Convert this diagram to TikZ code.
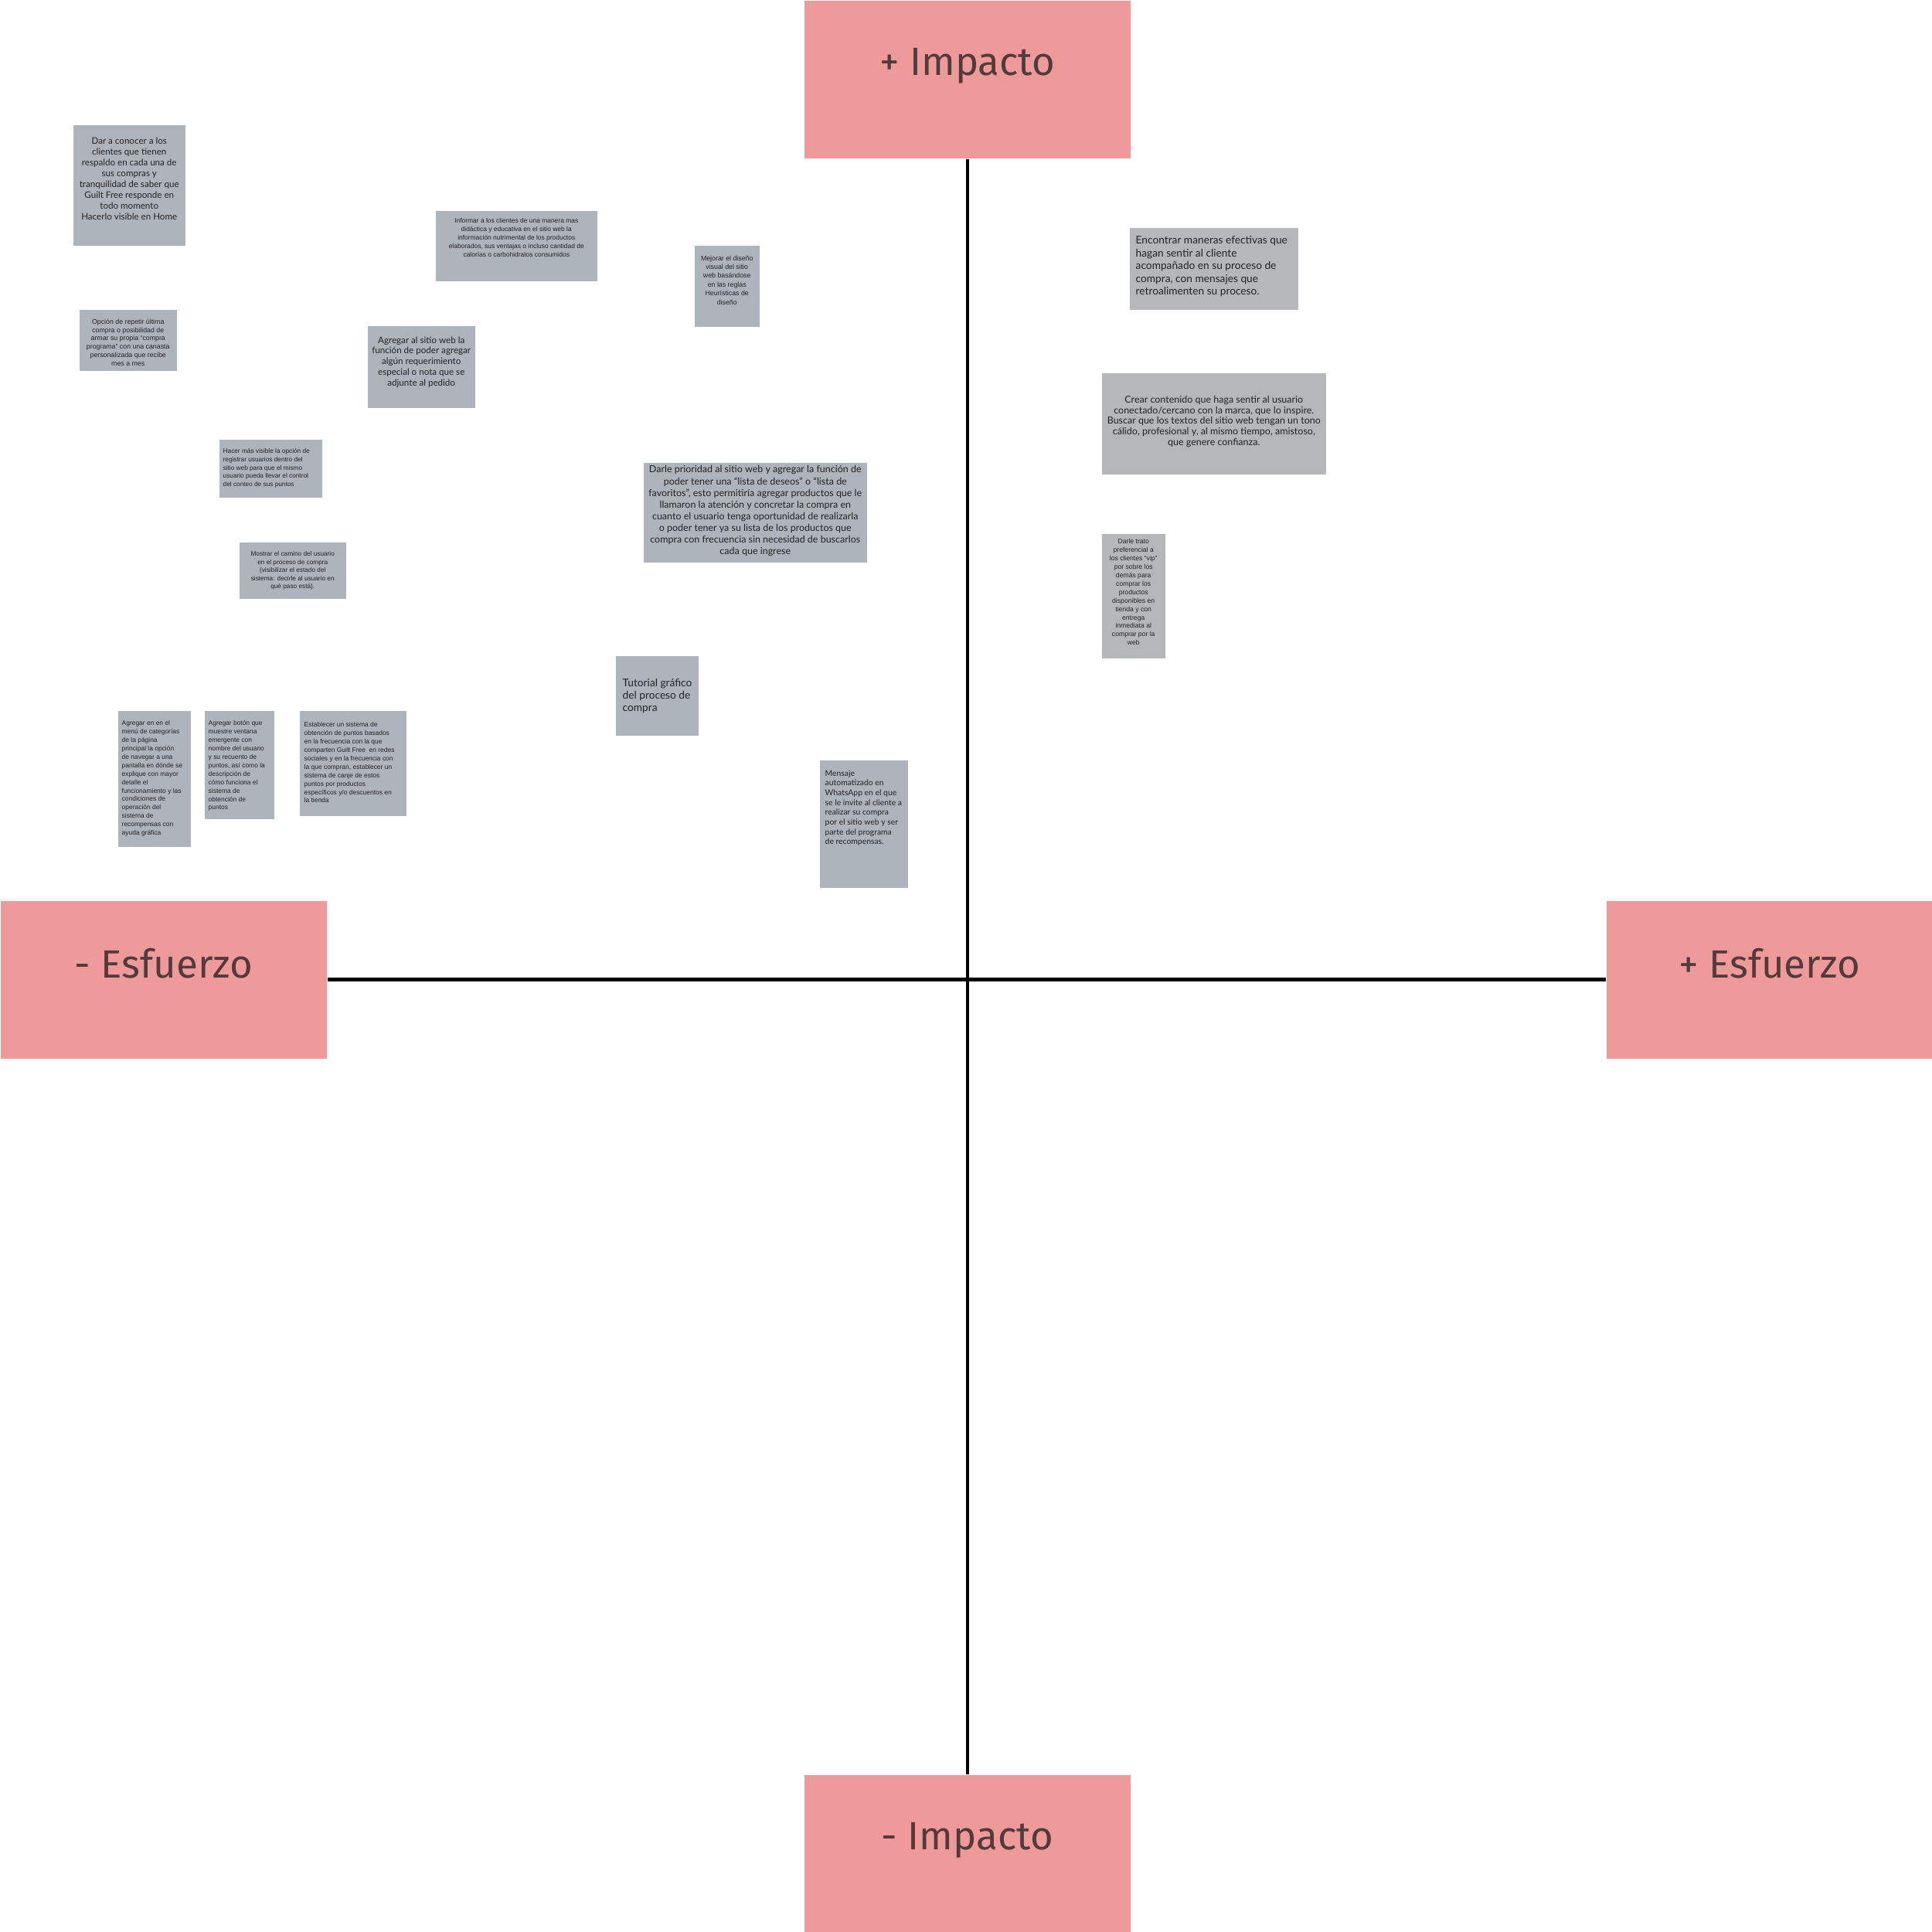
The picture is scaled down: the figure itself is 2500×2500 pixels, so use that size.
\documentclass[tikz,border=0pt]{standalone}
\usepackage{fontspec}
\setmainfont{Lato}
\newfontfamily\roboto{Liberation Sans}
\newfontfamily\mulish{Lato}
\newfontfamily\plex{Fira Sans}
\usetikzlibrary{positioning}
\definecolor{rosa}{HTML}{EF9A9A}
\definecolor{marron}{HTML}{553A3A}
\definecolor{azulgris}{HTML}{ADB4BC}
\definecolor{gris}{HTML}{B6B7B9}
\definecolor{tinta}{HTML}{222222}
\tikzset{
  eje/.style={line width=1.3pt, black},
  cabecera/.style={fill=rosa, anchor=north west, minimum width=4.22cm, minimum height=2.04cm, inner sep=0pt},
  cabtexto/.style={font=\plex\fontsize{14.5}{17}\selectfont, text=marron, inner sep=0pt},
  notaazul/.style={fill=azulgris, anchor=north west, inner sep=0pt},
  notagris/.style={fill=gris, anchor=north west, inner sep=0pt},
  txtro/.style={font=\roboto\fontsize{2.4}{3.1}\selectfont, text=tinta, inner sep=0pt},
  txtmu/.style={font=\mulish\fontsize{3.3}{4}\selectfont, text=tinta, inner sep=0pt}
}

\begin{document}
\begin{tikzpicture}[x=0.01cm, y=-0.01cm]
    \useasboundingbox (0,0) rectangle (2500,2500);
    % ejes
    \node[cabecera] (impactoMas) at (1040,0) {};
    \node[cabecera] (impactoMenos) at (1040,2296) {};
    \node[cabecera] (esfuerzoMenos) at (0,1165) {};
    \node[cabecera] (esfuerzoMas) at (2078,1165) {};
    \draw[eje] (impactoMas.south) -- (impactoMenos.north);
    \draw[eje] (esfuerzoMenos.east) -- (esfuerzoMas.west);
    \node[cabtexto, below=0.62cm of impactoMas.north] (tImpactoMas) {+ Impacto};
    \node[cabtexto, below=0.62cm of impactoMenos.north] (tImpactoMenos) {- Impacto};
    \node[cabtexto, below=0.62cm of esfuerzoMenos.north] (tEsfuerzoMenos) {- Esfuerzo};
    \node[cabtexto, below=0.62cm of esfuerzoMas.north] (tEsfuerzoMas) {+ Esfuerzo};

    % notas
    \node[notaazul, minimum width=1.45cm, minimum height=1.56cm] (conocer) at (94,161) {};
    \node[txtmu, font=\mulish\fontsize{3.3}{4}\selectfont, align=center, below=0.16cm of conocer.north] (tConocer) {Dar a conocer a los\\clientes que tienen\\respaldo en cada una de\\sus compras y\\tranquilidad de saber que\\Guilt Free responde en\\todo momento\\Hacerlo visible en Home};

    \node[notaazul, minimum width=1.26cm, minimum height=0.79cm] (repetir) at (102,400) {};
    \node[txtro, font=\roboto\fontsize{2.5}{3.1}\selectfont, align=center, below=0.12cm of repetir.north] (tRepetir) {Opción de repetir última\\compra o posibilidad de\\armar su propia “compra\\programa” con una canasta\\personalizada que recibe\\mes a mes};

    \node[notaazul, minimum width=2.09cm, minimum height=0.91cm] (informar) at (563,272) {};
    \node[txtro, align=center, below=0.10cm of informar.north] (tInformar) {Informar a los clientes de una manera mas\\didáctica y educativa en el sitio web la\\información nutrimental de los productos\\elaborados, sus ventajas o incluso cantidad de\\calorías o carbohidratos consumidos};

    \node[notaazul, minimum width=0.84cm, minimum height=1.05cm] (diseno) at (898,317) {};
    \node[txtro, font=\roboto\fontsize{2.5}{3.25}\selectfont, align=center, below=0.13cm of diseno.north] (tDiseno) {Mejorar el diseño\\visual del sitio\\web basándose\\en las reglas\\Heurísticas de\\diseño};

    \node[notaazul, minimum width=1.39cm, minimum height=1.06cm] (requerimiento) at (475,421) {};
    \node[txtmu, font=\mulish\fontsize{3.3}{3.9}\selectfont, align=center, below=0.14cm of requerimiento.north] (tRequerimiento) {Agregar al sitio web la\\función de poder agregar\\algún requerimiento\\especial o nota que se\\adjunte al pedido};

    \node[notaazul, minimum width=1.33cm, minimum height=0.75cm] (registro) at (283,568) {};
    \node[txtro, font=\roboto\fontsize{2.35}{3.05}\selectfont, align=left, below right=0.12cm and 0.05cm of registro.north west] (tRegistro) {Hacer más visible la opción de\\registrar usuarios dentro del\\sitio web para que el mismo\\usuario pueda llevar el control\\del conteo de sus puntos};

    \node[notaazul, minimum width=1.38cm, minimum height=0.73cm] (camino) at (309,701) {};
    \node[txtro, font=\roboto\fontsize{2.35}{3}\selectfont, align=center, below=0.12cm of camino.north] (tCamino) {Mostrar el camino del usuario\\en el proceso de compra\\(visibilizar el estado del\\sistema: decirle al usuario en\\qué paso está).};

    \node[notaazul, minimum width=2.89cm, minimum height=1.29cm] (favoritos) at (832,598) {};
    \node[txtmu, font=\mulish\fontsize{3.55}{4.3}\selectfont, align=center, below=0.04cm of favoritos.north] (tFavoritos) {Darle prioridad al sitio web y agregar la función de\\poder tener una “lista de deseos” o “lista de\\favoritos”, esto permitiría agregar productos que le\\llamaron la atención y concretar la compra en\\cuanto el usuario tenga oportunidad de realizarla\\o poder tener ya su lista de los productos que\\compra con frecuencia sin necesidad de buscarlos\\cada que ingrese};

    \node[notaazul, minimum width=1.07cm, minimum height=1.03cm] (tutorial) at (796,848) {};
    \node[txtmu, font=\mulish\fontsize{3.9}{4.55}\selectfont, align=left, below right=0.30cm and 0.09cm of tutorial.north west] (tTutorial) {Tutorial gráfico\\del proceso de\\compra};

    \node[notaazul, minimum width=0.94cm, minimum height=1.76cm] (menu) at (152,919) {};
    \node[txtro, align=left, below right=0.13cm and 0.05cm of menu.north west] (tMenu) {Agregar en en el\\menú de categorías\\de la página\\principal la opción\\de navegar a una\\pantalla en dónde se\\explique con mayor\\detalle el\\funcionamiento y las\\condiciones de\\operación del\\sistema de\\recompensas con\\ayuda gráfica};

    \node[notaazul, minimum width=0.90cm, minimum height=1.40cm] (boton) at (264,919) {};
    \node[txtro, align=left, below right=0.13cm and 0.05cm of boton.north west] (tBoton) {Agregar botón que\\muestre ventana\\emergente con\\nombre del usuario\\y su recuento de\\puntos, así como la\\descripción de\\cómo funciona el\\sistema de\\obtención de\\puntos};

    \node[notaazul, minimum width=1.38cm, minimum height=1.36cm] (puntos) at (387,919) {};
    \node[txtro, align=left, below right=0.15cm and 0.06cm of puntos.north west] (tPuntos) {Establecer un sistema de\\obtención de puntos basados\\en la frecuencia con la que\\comparten Guilt Free \ en redes\\sociales y en la frecuencia con\\la que compran, establecer un\\sistema de canje de estos\\puntos por productos\\específicos y/o descuentos en\\la tienda};

    \node[notaazul, minimum width=1.14cm, minimum height=1.65cm] (whatsapp) at (1060,983) {};
    \node[txtmu, font=\mulish\fontsize{2.95}{3.6}\selectfont, align=left, below right=0.13cm and 0.07cm of whatsapp.north west] (tWhatsapp) {Mensaje\\automatizado en\\WhatsApp en el que\\se le invite al cliente a\\realizar su compra\\por el sitio web y ser\\parte del programa\\de recompensas.};

    \node[notagris, minimum width=2.18cm, minimum height=1.06cm] (acompanar) at (1461,294) {};
    \node[txtmu, font=\mulish\fontsize{3.9}{4.7}\selectfont, align=left, below right=0.11cm and 0.08cm of acompanar.north west] (tAcompanar) {Encontrar maneras efectivas que\\hagan sentir al cliente\\acompañado en su proceso de\\compra, con mensajes que\\retroalimenten su proceso.};

    \node[notagris, minimum width=2.90cm, minimum height=1.31cm] (contenido) at (1425,482) {};
    \node[txtmu, font=\mulish\fontsize{3.55}{3.85}\selectfont, align=center, below=0.30cm of contenido.north] (tContenido) {Crear contenido que haga sentir al usuario\\conectado/cercano con la marca, que lo inspire.\\Buscar que los textos del sitio web tengan un tono\\cálido, profesional y, al mismo tiempo, amistoso,\\que genere confianza.};

    \node[notagris, minimum width=0.82cm, minimum height=1.61cm] (vip) at (1425,690) {};
    \node[txtro, font=\roboto\fontsize{2.45}{3.1}\selectfont, align=center, below=0.07cm of vip.north] (tVip) {Darle trato\\preferencial a\\los clientes “vip”\\por sobre los\\demás para\\comprar los\\productos\\disponibles en\\tienda y con\\entrega\\inmediata al\\comprar por la\\web};
\end{tikzpicture}
\end{document}
